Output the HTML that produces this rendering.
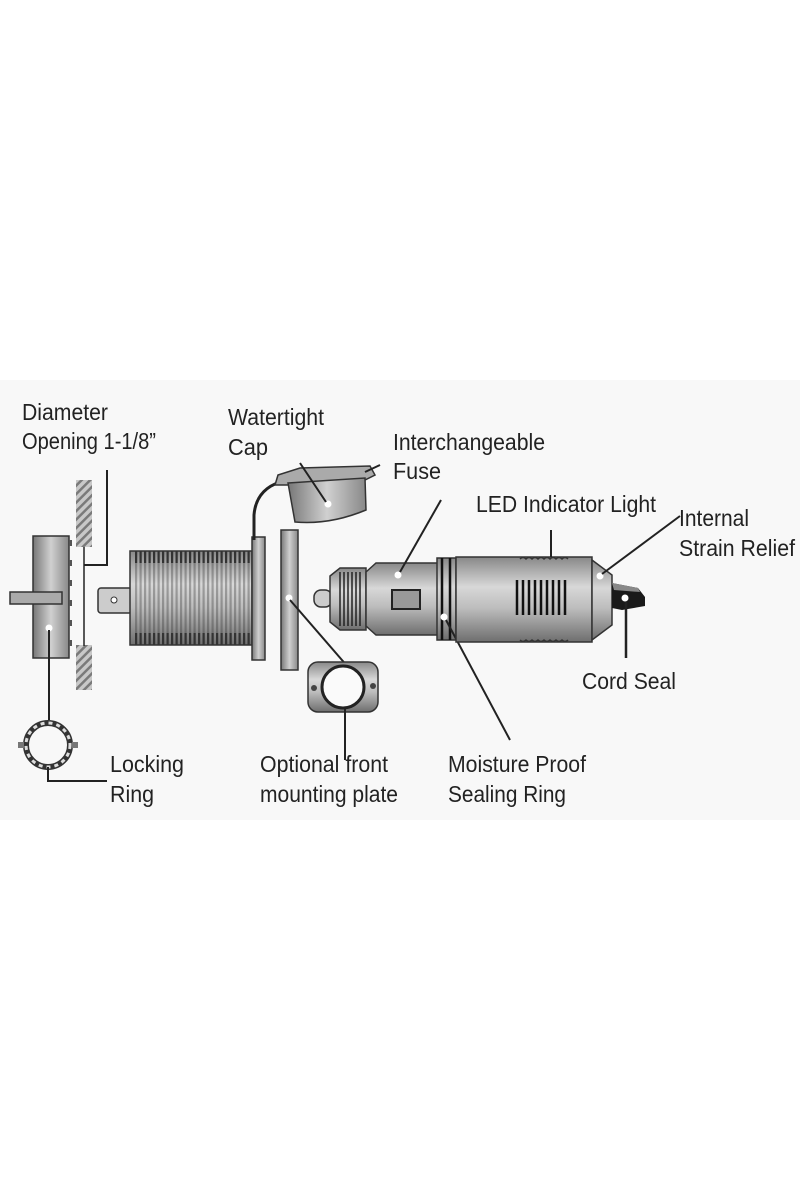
<!DOCTYPE html>
<html><head><style>
html,body{margin:0;padding:0;background:#fff;}
svg{display:block;}
text{font-family:"Liberation Sans",Arial,sans-serif;font-size:23px;fill:#222;}
</style></head><body>
<svg width="800" height="1200" viewBox="0 0 800 1200" xmlns="http://www.w3.org/2000/svg">
<defs>
<linearGradient id="g" x1="0" y1="0" x2="0" y2="1">
<stop offset="0" stop-color="#888"/><stop offset="0.35" stop-color="#d8d8d8"/><stop offset="0.6" stop-color="#bdbdbd"/><stop offset="1" stop-color="#6e6e6e"/>
</linearGradient>
<linearGradient id="gh" x1="0" y1="0" x2="1" y2="0">
<stop offset="0" stop-color="#777"/><stop offset="0.5" stop-color="#d0d0d0"/><stop offset="1" stop-color="#888"/>
</linearGradient>
<pattern id="hatch" width="6" height="6" patternUnits="userSpaceOnUse" patternTransform="rotate(45)">
<rect width="6" height="6" fill="#c8c8c8"/><rect width="2.5" height="6" fill="#7a7a7a"/>
</pattern>
<pattern id="thr" width="4.5" height="10" patternUnits="userSpaceOnUse">
<rect width="4.5" height="10" fill="none"/><rect width="2.2" height="10" fill="#333"/>
</pattern>
</defs>
<rect x="0" y="380" width="800" height="440" fill="#f8f8f8"/>

<!-- labels -->
<g lengthAdjust="spacingAndGlyphs">
<text x="22" y="420" textLength="86" lengthAdjust="spacingAndGlyphs">Diameter</text>
<text x="22" y="449" textLength="134" lengthAdjust="spacingAndGlyphs">Opening 1-1/8”</text>
<text x="228" y="425" textLength="96" lengthAdjust="spacingAndGlyphs">Watertight</text>
<text x="228" y="455" textLength="40" lengthAdjust="spacingAndGlyphs">Cap</text>
<text x="393" y="450" textLength="152" lengthAdjust="spacingAndGlyphs">Interchangeable</text>
<text x="393" y="479" textLength="48" lengthAdjust="spacingAndGlyphs">Fuse</text>
<text x="476" y="512" textLength="180" lengthAdjust="spacingAndGlyphs">LED Indicator Light</text>
<text x="679" y="526" textLength="70" lengthAdjust="spacingAndGlyphs">Internal</text>
<text x="679" y="556" textLength="116" lengthAdjust="spacingAndGlyphs">Strain Relief</text>
<text x="582" y="689" textLength="94" lengthAdjust="spacingAndGlyphs">Cord Seal</text>
<text x="110" y="772" textLength="74" lengthAdjust="spacingAndGlyphs">Locking</text>
<text x="110" y="802" textLength="44" lengthAdjust="spacingAndGlyphs">Ring</text>
<text x="260" y="772" textLength="128" lengthAdjust="spacingAndGlyphs">Optional front</text>
<text x="260" y="802" textLength="138" lengthAdjust="spacingAndGlyphs">mounting plate</text>
<text x="448" y="772" textLength="138" lengthAdjust="spacingAndGlyphs">Moisture Proof</text>
<text x="448" y="802" textLength="118" lengthAdjust="spacingAndGlyphs">Sealing Ring</text>
</g>

<!-- locking nut -->
<rect x="33" y="536" width="36" height="122" fill="url(#gh)" stroke="#333" stroke-width="1.5"/>
<g fill="#555"><rect x="69" y="540" width="3" height="6"/><rect x="69" y="560" width="3" height="6"/><rect x="69" y="580" width="3" height="6"/><rect x="69" y="600" width="3" height="6"/><rect x="69" y="620" width="3" height="6"/><rect x="69" y="640" width="3" height="6"/></g>
<rect x="10" y="592" width="52" height="12" fill="#aaa" stroke="#333" stroke-width="1.5"/>
<circle cx="49" cy="628" r="3.5" fill="#fff"/>
<line x1="49" y1="630" x2="49" y2="720" stroke="#222" stroke-width="2"/>
<!-- ring -->
<circle cx="48" cy="745" r="22" fill="none" stroke="#333" stroke-width="6"/>
<circle cx="48" cy="745" r="22" fill="none" stroke="#ddd" stroke-width="3" stroke-dasharray="4 4"/>
<rect x="18" y="742" width="6" height="6" fill="#777"/><rect x="72" y="742" width="6" height="6" fill="#777"/>
<polyline points="48,767 48,781 107,781" fill="none" stroke="#222" stroke-width="2"/>

<!-- wall -->
<rect x="76" y="480" width="16" height="67" fill="url(#hatch)"/>
<rect x="76" y="645" width="16" height="45" fill="url(#hatch)"/>
<line x1="84" y1="547" x2="84" y2="646" stroke="#222" stroke-width="1.5"/>
<polyline points="84,565 107,565 107,470" fill="none" stroke="#222" stroke-width="2"/>

<!-- spade + threaded body -->
<rect x="98" y="588" width="34" height="25" rx="3" fill="#ccc" stroke="#333" stroke-width="1.5"/>
<circle cx="114" cy="600" r="3" fill="#fff" stroke="#333"/>
<rect x="130" y="551" width="122" height="94" fill="url(#g)" stroke="#333" stroke-width="1.5"/>
<rect x="134" y="551" width="116" height="94" fill="url(#thr)" opacity="0.35"/>
<rect x="134" y="551" width="116" height="12" fill="url(#thr)"/>
<rect x="134" y="633" width="116" height="12" fill="url(#thr)"/>
<rect x="252" y="537" width="13" height="123" fill="url(#gh)" stroke="#333" stroke-width="1.5"/>

<!-- cap -->
<path d="M254,540 L254,515 Q256,490 280,482" fill="none" stroke="#222" stroke-width="3"/>
<path d="M275,485 L278,475 L300,468 L370,466 L375,475 L365,480 L288,485 Z" fill="#aaa" stroke="#333" stroke-width="1.5"/>
<path d="M288,483 L365,478 L366,510 Q330,525 295,522 Z" fill="url(#gh)" stroke="#333" stroke-width="1.5"/>
<line x1="365" y1="472" x2="380" y2="465" stroke="#222" stroke-width="2"/>
<circle cx="328" cy="504" r="3.5" fill="#fff"/>
<line x1="326" y1="502" x2="300" y2="463" stroke="#222" stroke-width="2"/>

<!-- front plate side -->
<rect x="281" y="530" width="17" height="140" fill="url(#gh)" stroke="#333" stroke-width="1.5"/>
<circle cx="289" cy="598" r="3.5" fill="#fff"/>
<line x1="290" y1="600" x2="348" y2="667" stroke="#222" stroke-width="2"/>
<!-- mounting plate -->
<rect x="308" y="662" width="70" height="50" rx="10" fill="url(#g)" stroke="#333" stroke-width="1.5"/>
<circle cx="343" cy="687" r="21" fill="#fafafa" stroke="#222" stroke-width="3"/>
<circle cx="314" cy="688" r="3" fill="#444"/><circle cx="373" cy="686" r="3" fill="#444"/>
<line x1="345" y1="708" x2="345" y2="760" stroke="#222" stroke-width="2"/>

<!-- plug -->
<rect x="314" y="590" width="18" height="17" rx="7" fill="#ccc" stroke="#333" stroke-width="1.5"/>
<path d="M330,576 L340,568 L366,568 L366,630 L340,630 L330,622 Z" fill="url(#g)" stroke="#333" stroke-width="1.5"/>
<g stroke="#222" stroke-width="1.5"><line x1="340" y1="572" x2="340" y2="626"/><line x1="344" y1="572" x2="344" y2="626"/><line x1="348" y1="572" x2="348" y2="626"/><line x1="352" y1="572" x2="352" y2="626"/><line x1="356" y1="572" x2="356" y2="626"/><line x1="360" y1="572" x2="360" y2="626"/></g>
<path d="M366,572 L376,563 L438,563 L438,635 L376,635 L366,626 Z" fill="url(#g)" stroke="#333" stroke-width="1.5"/>
<rect x="392" y="590" width="28" height="19" fill="#999" stroke="#222" stroke-width="2"/>
<circle cx="398" cy="575" r="3.5" fill="#fff"/>
<line x1="400" y1="572" x2="441" y2="500" stroke="#222" stroke-width="2"/>
<rect x="437" y="558" width="19" height="82" fill="url(#g)" stroke="#333" stroke-width="1.5"/>
<line x1="442" y1="558" x2="442" y2="640" stroke="#111" stroke-width="2.5"/>
<line x1="450" y1="558" x2="450" y2="640" stroke="#111" stroke-width="2.5"/>
<circle cx="444" cy="617" r="3.5" fill="#fff"/>
<line x1="446" y1="620" x2="510" y2="740" stroke="#222" stroke-width="2"/>
<rect x="456" y="557" width="136" height="85" fill="url(#g)" stroke="#333" stroke-width="1.5"/>
<path d="M520,559 q3,-3 6,0 q3,-3 6,0 q3,-3 6,0 q3,-3 6,0 q3,-3 6,0 q3,-3 6,0 q3,-3 6,0 q3,-3 6,0" fill="none" stroke="#333" stroke-width="1.5"/>
<path d="M520,640 q3,3 6,0 q3,3 6,0 q3,3 6,0 q3,3 6,0 q3,3 6,0 q3,3 6,0 q3,3 6,0 q3,3 6,0" fill="none" stroke="#333" stroke-width="1.5"/>
<g stroke="#111" stroke-width="2.5"><line x1="517" y1="580" x2="517" y2="615"/><line x1="523" y1="580" x2="523" y2="615"/><line x1="529" y1="580" x2="529" y2="615"/><line x1="535" y1="580" x2="535" y2="615"/><line x1="541" y1="580" x2="541" y2="615"/><line x1="547" y1="580" x2="547" y2="615"/><line x1="553" y1="580" x2="553" y2="615"/><line x1="559" y1="580" x2="559" y2="615"/><line x1="565" y1="580" x2="565" y2="615"/></g>
<line x1="551" y1="530" x2="551" y2="557" stroke="#222" stroke-width="2"/>
<path d="M592,560 L612,575 L612,625 L592,640 Z" fill="url(#g)" stroke="#333" stroke-width="1.5"/>
<circle cx="600" cy="576" r="3.5" fill="#fff"/>
<line x1="602" y1="574" x2="680" y2="516" stroke="#222" stroke-width="2"/>
<path d="M612,583 L638,588 L645,597 L645,606 L622,610 L612,608 Z" fill="#1a1a1a"/>
<path d="M612,583 L638,588 L640,592 L614,590 Z" fill="#888"/>
<circle cx="625" cy="598" r="3.5" fill="#fff"/>
<line x1="626" y1="602" x2="626" y2="658" stroke="#222" stroke-width="2.5"/>
</svg>
</body></html>
